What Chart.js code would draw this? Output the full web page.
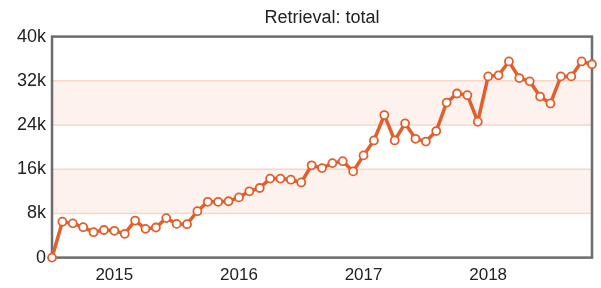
<!DOCTYPE html>
<html>
<head>
<meta charset="utf-8">
<script src="https://cdn.jsdelivr.net/npm/chart.js@4/dist/chart.umd.min.js"></script>
<style>
    html, body { margin: 0; padding: 0; background: #fff; }
    #wrap { width: 601px; height: 288px; position: relative; }
</style>
</head>
<body>
<div id="wrap"><canvas id="myChart"></canvas></div>
<script>
// months Jul 2014 .. Nov 2018
const months = [];
for (let y = 2014; y <= 2018; y++) {
    for (let m = 1; m <= 12; m++) {
        if ((y === 2014 && m < 7) || (y === 2018 && m > 11)) continue;
        months.push(y + '-' + String(m).padStart(2, '0'));
    }
}

const retrieval = [
    0, 6500, 6200, 5500, 4600, 5000, 4850, 4300, 6700, 5200, 5450, 7150,
    6100, 6050, 8400, 10100, 10100, 10200, 10900, 12000, 12600, 14300, 14300, 14100,
    13600, 16700, 16200, 17100, 17450, 15600, 18500, 21200, 25800, 21200, 24300, 21500,
    21000, 22900, 28050, 29700, 29400, 24600, 32800, 33000, 35500, 32500, 31900, 29150,
    27900, 32800, 32800, 35500, 35000
];

const yTicks = [0, 8000, 16000, 24000, 32000, 40000];
const bands = [[8000, 16000], [24000, 32000]];

const lineColor = '#e05f2c';

const bandsAndBox = {
    id: 'bandsAndBox',
    beforeDatasetsDraw(chart) {
        const { ctx, chartArea, scales } = chart;
        ctx.save();
        bands.forEach(b => {
            const top = scales.y.getPixelForValue(b[1]);
            const bottom = scales.y.getPixelForValue(b[0]);
            ctx.fillStyle = 'rgba(250, 226, 215, 0.45)';
            ctx.fillRect(chartArea.left, top, chartArea.right - chartArea.left, bottom - top);
            ctx.strokeStyle = '#f8d6c8';
            ctx.lineWidth = 1.5;
            ctx.beginPath();
            ctx.moveTo(chartArea.left, top);
            ctx.lineTo(chartArea.right, top);
            ctx.moveTo(chartArea.left, bottom);
            ctx.lineTo(chartArea.right, bottom);
            ctx.stroke();
        });
        ctx.strokeStyle = '#6c6c6c';
        ctx.lineWidth = 2.5;
        ctx.strokeRect(chartArea.left, chartArea.top, chartArea.right - chartArea.left, chartArea.bottom - chartArea.top);
        ctx.restore();
    }
};

const ctx = document.getElementById('myChart').getContext('2d');
new Chart(ctx, {
    type: 'line',
    data: {
        labels: months,
        datasets: [{
            label: 'Retrieval: total',
            data: retrieval,
            borderColor: lineColor,
            borderWidth: 3.5,
            pointRadius: 4,
            pointBorderWidth: 1.8,
            pointBackgroundColor: '#ffffff',
            pointBorderColor: lineColor,
            tension: 0,
            clip: false
        }]
    },
    plugins: [bandsAndBox],
    options: {
        responsive: true,
        maintainAspectRatio: false,
        animation: false,
        layout: {
            autoPadding: false,
            padding: { left: 11, right: 9, top: 0, bottom: -6 }
        },
        plugins: {
            legend: { display: false },
            tooltip: { enabled: false },
            title: {
                display: true,
                text: 'Retrieval: total',
                fullSize: false,
                color: '#222',
                font: { family: 'Liberation Sans, Arial, sans-serif', size: 18, weight: 'normal' },
                padding: { top: 7, bottom: 8 }
            }
        },
        scales: {
            x: {
                type: 'category',
                offset: false,
                grid: { display: false, drawTicks: false },
                border: { display: false },
                ticks: {
                    autoSkip: false,
                    maxRotation: 0,
                    padding: 8,
                    color: '#222',
                    font: { family: 'Liberation Sans, Arial, sans-serif', size: 17 },
                    callback: function (value) {
                        const m = months[value];
                        return m.endsWith('-01') ? m.slice(0, 4) : '';
                    }
                }
            },
            y: {
                min: 0,
                max: 40000,
                afterBuildTicks: axis => { axis.ticks = yTicks.map(v => ({ value: v })); },
                grid: { display: false, drawTicks: false },
                border: { display: false },
                ticks: {
                    padding: 6,
                    color: '#222',
                    font: { family: 'Liberation Sans, Arial, sans-serif', size: 18 },
                    callback: v => v === 0 ? '0' : (v / 1000) + 'k'
                }
            }
        }
    }
});
</script>
</body>
</html>
